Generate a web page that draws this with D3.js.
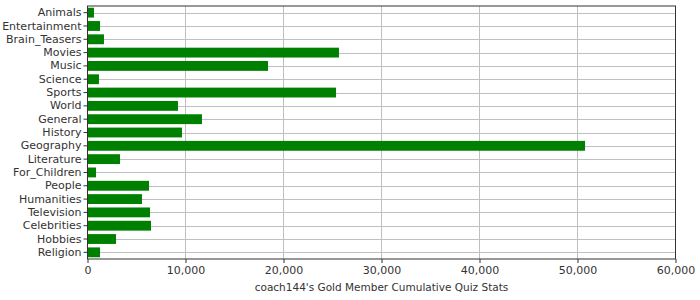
<!DOCTYPE html>
<html>
<head>
<meta charset="utf-8">
<script src="https://cdn.jsdelivr.net/npm/d3@7"></script>
<style>
  body { margin: 0; background: #fff; }
  text { font-family: "DejaVu Sans", sans-serif; fill: #333; }
</style>
</head>
<body>
<svg id="mainSvg" width="700" height="300"></svg>
<script>
// categories and their quiz totals
let categories = ['Animals', 'Entertainment', 'Brain_Teasers', 'Movies', 'Music', 'Science',
    'Sports', 'World', 'General', 'History', 'Geography', 'Literature', 'For_Children',
    'People', 'Humanities', 'Television', 'Celebrities', 'Hobbies', 'Religion']
let values = [660, 1280, 1680, 25660, 18420, 1170, 25360, 9230, 11680, 9640, 50770,
    3320, 870, 6280, 5560, 6380, 6480, 2910, 1280]
let xTicks = [0, 10000, 20000, 30000, 40000, 50000, 60000]
let xTitle = "coach144's Gold Member Cumulative Quiz Stats"

let svg = d3.select('#mainSvg')
let margin = {left: 87.5, right: 24.5, top: 6, bottom: 41}
let width = 700, height = 300

let x = d3.scaleLinear().domain([0, 60000]).range([margin.left, width - margin.right])
let y = d3.scaleBand().domain(categories)
    .range([margin.top, height - margin.bottom])
    .paddingInner(0.26).paddingOuter(0.13)

// grid
let grid = svg.append('g').attr('class', 'grid')
grid.selectAll('line.v')
    .data(xTicks.slice(1, -1))
    .enter().append('line')
    .attr('x1', d => x(d)).attr('x2', d => x(d))
    .attr('y1', margin.top).attr('y2', height - margin.bottom)
    .attr('stroke', '#c0c0c0')
grid.selectAll('line.h')
    .data(categories)
    .enter().append('line')
    .attr('x1', margin.left).attr('x2', width - margin.right)
    .attr('y1', d => Math.round(y(d) + y.bandwidth() / 2) + 0.5)
    .attr('y2', d => Math.round(y(d) + y.bandwidth() / 2) + 0.5)
    .attr('stroke', '#c0c0c0')

// bars
svg.append('g')
    .selectAll('rect')
    .data(categories)
    .enter().append('rect')
    .attr('x', x(0))
    .attr('y', d => y(d))
    .attr('width', (d, i) => x(values[i]) - x(0))
    .attr('height', y.bandwidth())
    .attr('fill', '#008000')

// frame
svg.append('rect')
    .attr('x', margin.left).attr('y', margin.top)
    .attr('width', width - margin.right - margin.left)
    .attr('height', height - margin.bottom - margin.top)
    .attr('fill', 'none')
    .attr('stroke', '#333')

// axes
let xAxis = svg.append('g')
    .attr('transform', 'translate(0,' + (height - margin.bottom) + ')')
    .call(d3.axisBottom(x).tickValues(xTicks).tickSize(4).tickPadding(3).tickFormat(d3.format(',')))
let yAxis = svg.append('g')
    .attr('transform', 'translate(' + margin.left + ',0)')
    .call(d3.axisLeft(y).tickSize(4).tickPadding(2))

for (let ax of [xAxis, yAxis]) {
    ax.select('.domain').remove()
    ax.selectAll('line').attr('stroke', '#333')
    ax.selectAll('text').attr('font-size', 11).attr('fill', '#333')
        .attr('font-family', '"DejaVu Sans", sans-serif')
}

svg.append('text')
    .attr('x', (x.range()[0] + x.range()[1]) / 2)
    .attr('y', 291)
    .attr('text-anchor', 'middle')
    .attr('font-size', 10.5)
    .text(xTitle)
</script>
</body>
</html>
